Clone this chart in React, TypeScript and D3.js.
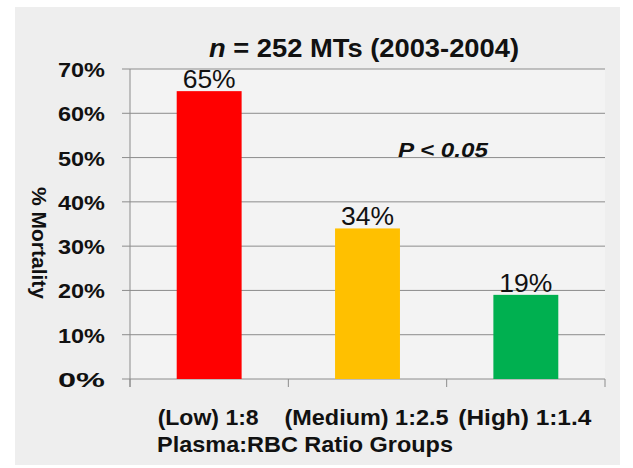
import React from "react";
import * as d3 from "d3";

const categories = ["(Low) 1:8", "(Medium) 1:2.5", "(High) 1:1.4"];
const categoryLabelWidths = [101, 164, 133];
const mortality = [65, 34, 19];
const barColors = ["#ff0000", "#ffc000", "#00b050"];
const yTicks = [0, 10, 20, 30, 40, 50, 60, 70];

export default function App() {
  const W = 633, H = 468;
  const left = 130, right = 605, top = 69, bottom = 379;
  const x = d3.scaleBand<string>().domain(categories).range([left, right]).paddingInner(0).paddingOuter(0);
  const y = d3.scaleLinear().domain([0, 70]).range([bottom, top]);
  const bw = x.bandwidth() * 0.41;
  const font = "'Liberation Sans', Arial, sans-serif";
  return (
    <svg width={W} height={H} style={{ position: "absolute", left: 0, top: 0 }} fontFamily={font}>
      <rect x={0} y={0} width={W} height={H} fill="#ffffff" />
      <rect x={15} y={7} width={605} height={458} fill="#eeeeee" />
      <rect x={left} y={top} width={right - left} height={bottom - top} fill="#f3f3f3" />
      {yTicks.map((t) => (
        <g key={t}>
          <line x1={left - 8} x2={right} y1={y(t)} y2={y(t)} stroke="#8c8c8c" strokeWidth={1} />
          <text x={105} y={y(t) + 8} textAnchor="end" fontSize={20} fontWeight="bold" fill="#111" textLength={47} lengthAdjust="spacingAndGlyphs">
            {t}%
          </text>
        </g>
      ))}
      <line x1={left} x2={left} y1={top} y2={bottom + 8} stroke="#8c8c8c" strokeWidth={1} />
      {[...categories.map((c) => x(c)!), right].map((px, i) => (
        <line key={i} x1={px} x2={px} y1={bottom} y2={bottom + 8} stroke="#8c8c8c" strokeWidth={1} />
      ))}
      {categories.map((c, i) => {
        const cx = x(c)! + x.bandwidth() / 2;
        return (
          <g key={c}>
            <rect x={cx - bw / 2} y={y(mortality[i])} width={bw} height={bottom - y(mortality[i])} fill={barColors[i]} />
            <text x={cx} y={y(mortality[i]) - 3} textAnchor="middle" fontSize={25} fill="#111" textLength={53} lengthAdjust="spacingAndGlyphs">
              {mortality[i]}%
            </text>
            <text x={cx - 1} y={425} textAnchor="middle" fontSize={22} fontWeight="bold" fill="#111" textLength={categoryLabelWidths[i]} lengthAdjust="spacingAndGlyphs">
              {c}
            </text>
          </g>
        );
      })}
      <text x={157} y={452} fontSize={22} fontWeight="bold" fill="#111" textLength={296} lengthAdjust="spacingAndGlyphs">Plasma:RBC Ratio Groups</text>
      <text x={443} y={157} textAnchor="middle" fontSize={21} fontWeight="bold" fontStyle="italic" fill="#111" textLength={90} lengthAdjust="spacingAndGlyphs">
        P &lt; 0.05
      </text>
      <text x={364} y={57} textAnchor="middle" fontSize={26} fontWeight="bold" fill="#111" textLength={310} lengthAdjust="spacingAndGlyphs">
        <tspan fontStyle="italic">n</tspan> = 252 MTs (2003-2004)
      </text>
      <text transform={`translate(32,243) rotate(90)`} textAnchor="middle" fontSize={21} fontWeight="bold" fill="#111">
        % Mortality
      </text>
    </svg>
  );
}
